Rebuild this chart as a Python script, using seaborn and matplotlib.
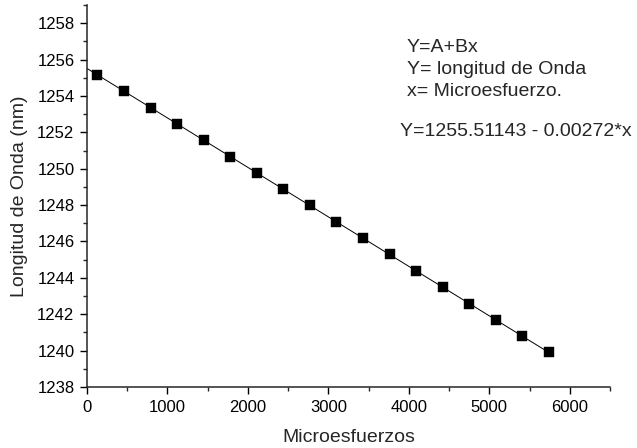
import matplotlib
matplotlib.use("Agg")
import matplotlib.pyplot as plt
import seaborn as sns
import numpy as np
import pandas as pd
from matplotlib.ticker import MultipleLocator

# Measured points (microstrain vs wavelength)
microesfuerzos = [130, 460, 790, 1120, 1450, 1780, 2110, 2440, 2770,
                  3100, 3430, 3760, 4090, 4420, 4750, 5080, 5410, 5740]
longitud_onda = [1255.16, 1254.26, 1253.36, 1252.46, 1251.57, 1250.67,
                 1249.77, 1248.88, 1247.98, 1247.08, 1246.18, 1245.29,
                 1244.39, 1243.49, 1242.59, 1241.70, 1240.80, 1239.90]

# Linear fit coefficients shown on the chart
A = 1255.51143
B = -0.00272
fit_x = [0, 5740]

annot_lines = ["Y=A+Bx", "Y= longitud de Onda", "x= Microesfuerzo."]
annot_fit = "Y=1255.51143 - 0.00272*x"

sns.set_style("ticks")
plt.rcParams['font.family'] = ['Liberation Sans', 'DejaVu Sans']

df = pd.DataFrame({"x": microesfuerzos, "y": longitud_onda})
fit_df = pd.DataFrame({"x": fit_x, "y": [A + B * v for v in fit_x]})

fig = plt.figure(figsize=(6.37, 4.48), dpi=100)
ax = fig.add_axes([87 / 637, 1 - 387 / 448, (610 - 87) / 637, (387 - 5) / 448])

sns.lineplot(data=fit_df, x="x", y="y", ax=ax, color="black", linewidth=0.7)
sns.scatterplot(data=df, x="x", y="y", ax=ax, marker="s", s=42,
                color="black", edgecolor="black", linewidth=0.3, zorder=3)

ax.set_xlim(0, 6500)
ax.set_ylim(1238, 1259)
ax.xaxis.set_major_locator(MultipleLocator(1000))
ax.xaxis.set_minor_locator(MultipleLocator(500))
ax.yaxis.set_major_locator(MultipleLocator(2))
ax.yaxis.set_minor_locator(MultipleLocator(1))
ax.tick_params(which="major", direction="out", length=5, width=1, labelsize=12,
               colors="black", pad=4)
ax.tick_params(which="minor", direction="out", length=3, width=1)
for s in ["left", "bottom"]:
    ax.spines[s].set_linewidth(1.1)
sns.despine(ax=ax)

ax.set_xlabel("Microesfuerzos", fontsize=14, va="center")
ax.set_ylabel("Longitud de Onda (nm)", fontsize=14, va="center")
ax.xaxis.set_label_coords(0.5, (387 - 437) / 382)
ax.yaxis.set_label_coords((20 - 87) / 523, 0.5)

for i, t in enumerate(annot_lines):
    fig.text(407 / 637, 1 - (47 + 22 * i) / 448, t, fontsize=14, va="center", ha="left")
fig.text(400 / 637, 1 - 131 / 448, annot_fit, fontsize=14, va="center", ha="left")

fig.savefig("out.png", dpi=100)
